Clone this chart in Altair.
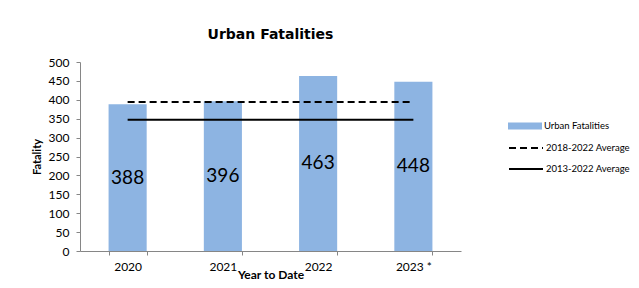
import altair as alt
import pandas as pd

years = ["2020", "2021", "2022", "2023 *"]
fatalities = [388, 396, 463, 448]
avg_names = ["2018-2022 Average", "2013-2022 Average"]
avg_values = [394, 347]
y_ticks = [0, 50, 100, 150, 200, 250, 300, 350, 400, 450, 500]

bars_df = pd.DataFrame({"year": years, "value": fatalities, "series": "Urban Fatalities"})
dash_df = pd.DataFrame({"start": [years[0]], "end": [years[-1]], "value": [avg_values[0]], "s5": [avg_names[0]]})
solid_df = pd.DataFrame({"start": [years[0]], "end": [years[-1]], "value": [avg_values[1]], "s10": [avg_names[1]]})

BLUE = "#8DB4E2"
AX = "#868686"

xscale = alt.Scale(domain=years, paddingInner=0.6, paddingOuter=0.3)
yscale = alt.Scale(domain=[0, 500])

x_axis = alt.Axis(title="Year to Date", labelAngle=0, tickBand="extent", tickSize=4,
                  labelPadding=6, labelFont="Lato", labelFontSize=12, labelColor="black",
                  titleFont="Lato", titleFontSize=12, titleFontWeight="bold", titleColor="black",
                  titleBaseline="alphabetic", titleY=27,
                  domainColor=AX, tickColor=AX)
y_axis = alt.Axis(title="Fatality", values=y_ticks, tickCount=11, tickSize=4, labelPadding=7,
                  labelOverlap=False, labelFont="Lato", labelFontSize=12, labelColor="black",
                  titleFont="Lato", titleFontSize=11, titleFontWeight="bold", titleColor="black",
                  titlePadding=6, grid=False, domainColor=AX, tickColor=AX)

legend_common = dict(title=None, orient="none", legendX=428, labelFont="Lato", labelFontSize=9.5,
                     labelColor="black", labelOffset=2, labelLimit=0, symbolSize=1156)

bars = alt.Chart(bars_df).mark_bar().encode(
    x=alt.X("year:N", scale=xscale, axis=x_axis, sort=years),
    y=alt.Y("value:Q", scale=yscale, axis=y_axis),
    fill=alt.Fill("series:N", scale=alt.Scale(range=[BLUE]),
                  legend=alt.Legend(legendY=47, symbolType="M-1,-0.2H1V0.2H-1Z",
                                    symbolStrokeWidth=0, **legend_common)),
)

labels = alt.Chart(bars_df).mark_text(font="Lato", fontSize=19, color="black", baseline="middle").encode(
    x=alt.X("year:N", scale=xscale, sort=years, axis=x_axis),
    y=alt.Y("mid:Q", scale=yscale, axis=y_axis),
    text="value:Q",
).transform_calculate(mid="datum.value / 2")

dash = alt.Chart(dash_df).mark_rule(color="black", strokeWidth=2).encode(
    x=alt.X("start:N", scale=xscale, axis=x_axis),
    x2="end:N",
    y=alt.Y("value:Q", scale=yscale, axis=y_axis),
    strokeDash=alt.StrokeDash("s5:N", scale=alt.Scale(range=[[7, 4]]),
                              legend=alt.Legend(legendY=68, symbolType="stroke",
                                                symbolStrokeColor="black", symbolStrokeWidth=2,
                                                **legend_common)),
)

solid = alt.Chart(solid_df).mark_rule(strokeWidth=2).encode(
    x=alt.X("start:N", scale=xscale, axis=x_axis),
    x2="end:N",
    y=alt.Y("value:Q", scale=yscale, axis=y_axis),
    stroke=alt.Stroke("s10:N", scale=alt.Scale(range=["black"]),
                      legend=alt.Legend(legendY=89, symbolType="stroke", symbolStrokeWidth=2,
                                        **legend_common)),
)

chart = alt.layer(bars, labels, dash, solid).resolve_legend(
    fill="independent", strokeDash="independent", stroke="independent"
).properties(
    width=381, height=189,
    title=alt.TitleParams("Urban Fatalities", font="DejaVu Sans", fontSize=14, fontWeight="bold",
                          color="black", anchor="middle", offset=14),
    autosize=alt.AutoSizeParams(type="none"),
    padding={"left": 72, "top": 54, "right": 170, "bottom": 29},
).configure(background="white").configure_view(strokeWidth=0, stroke="transparent")

chart.save("out.html", embed_options={"renderer": "svg", "actions": False})
